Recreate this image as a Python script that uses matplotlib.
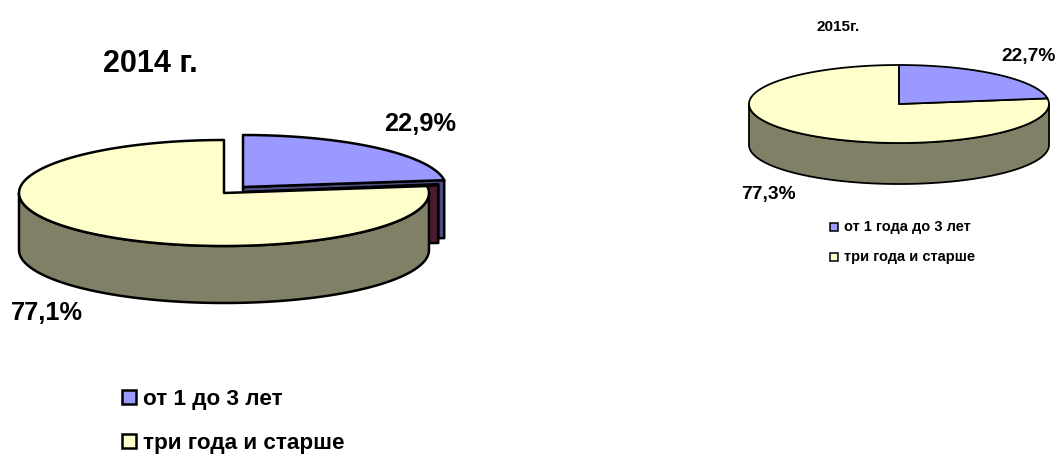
import numpy as np
import matplotlib
matplotlib.use("Agg")
import matplotlib.pyplot as plt
from matplotlib.patches import Polygon, Rectangle

plt.rcParams['font.family'] = ['Liberation Sans', 'DejaVu Sans']

# values in percent
shares_2014 = [22.9, 77.1]
shares_2015 = [22.7, 77.3]
legend_2014 = ['от 1 до 3 лет', 'три года и старше']
legend_2015 = ['от 1 года до 3 лет', 'три года и старше']

BLUE = '#9999FF'
YELLOW = '#FFFFCC'
YELLOW_SIDE = '#808066'
BLUE_SIDE = '#4D4D80'
MAROON = '#4D1A33'


def fmt(v):
    return f'{v:.1f}%'.replace('.', ',')


def arc(cx, cy, rx, ry, a0, a1, n=200):
    # angles go clockwise from the top, in degrees
    a = np.radians(np.linspace(a0, a1, n))
    return np.column_stack([cx + rx * np.sin(a), cy - ry * np.cos(a)])


def add_poly(ax, pts, color, lw, z):
    ax.add_patch(Polygon(pts, closed=True, facecolor=color, edgecolor='black',
                         linewidth=lw, joinstyle='round', zorder=z))


def draw_side(ax, cx, cy, rx, ry, depth, lw, z):
    top = arc(cx, cy, rx, ry, 90, 270)
    bottom = top[::-1] + [0, depth]
    add_poly(ax, np.vstack([top, bottom]), YELLOW_SIDE, lw, z)


def draw_legend(ax, x, ys, labels, size, fs, lw, gap, text_dy=0):
    for y, label, color in zip(ys, labels, [BLUE, YELLOW]):
        ax.add_patch(Rectangle((x, y - size / 2), size, size, facecolor=color,
                               edgecolor='black', linewidth=lw))
        ax.text(x + size + gap, y + text_dy, label, fontsize=fs, fontweight='bold',
                va='center', ha='left')


fig = plt.figure(figsize=(10.58, 4.54), dpi=100)
ax = fig.add_axes([0, 0, 1, 1])
ax.set_xlim(0, 1058)
ax.set_ylim(454, 0)
ax.axis('off')

# 2014, blue slice pulled out
angle = shares_2014[0] * 3.6
bx, by, brx, bry = 243, 187, 203, 52
cx, cy, rx, ry, depth = 224, 193, 205, 53, 57
blue_top = arc(bx, by, brx, bry, 0, angle)
tip = blue_top[-1]
add_poly(ax, [(bx, by), tip, (tip[0], tip[1] + 58), (tip[0] - 6, tip[1] + 58),
              (tip[0] - 6, tip[1] + 4), (bx, by + 5)], BLUE_SIDE, 1.8, 1)
add_poly(ax, [(cx + rx - 2, cy - 7), (tip[0] - 6, cy - 8), (tip[0] - 6, cy + 50),
              (cx + rx - 2, cy + 50)], MAROON, 1.8, 2)
draw_side(ax, cx, cy, rx, ry, depth, 1.8, 3)
add_poly(ax, np.vstack([[(cx, cy)], arc(cx, cy, rx, ry, angle, 360)]), YELLOW, 1.8, 4)
add_poly(ax, np.vstack([[(bx, by)], blue_top]), BLUE, 1.8, 5)

# 2015
angle = shares_2015[0] * 3.6
cx, cy, rx, ry, depth = 899, 104, 150, 39, 41
draw_side(ax, cx, cy, rx, ry, depth, 1.3, 3)
add_poly(ax, np.vstack([[(cx, cy)], arc(cx, cy, rx, ry, angle, 360)]), YELLOW, 1.3, 4)
add_poly(ax, np.vstack([[(cx, cy)], arc(cx, cy, rx, ry, 0, angle)]), BLUE, 1.3, 5)

ax.text(150, 64, '2014 г.', fontsize=22, fontweight='bold', ha='center', va='center')
ax.text(420.5, 124, fmt(shares_2014[0]), fontsize=18.3, fontweight='bold', ha='center', va='center')
ax.text(47, 313, fmt(shares_2014[1]), fontsize=18.3, fontweight='bold', ha='center', va='center')

ax.text(838, 27, '2015г.', fontsize=11, fontweight='bold', ha='center', va='center')
ax.text(1029, 57, fmt(shares_2015[0]), fontsize=13.8, fontweight='bold', ha='center', va='center')
ax.text(768.5, 194, fmt(shares_2015[1]), fontsize=13.8, fontweight='bold', ha='center', va='center')

draw_legend(ax, 122, [397, 441], legend_2014, 14, 16.2, 1.8, 7, text_dy=2)
draw_legend(ax, 830, [227, 257], legend_2015, 8, 10.5, 1.1, 6)

fig.savefig('out.png', dpi=100, facecolor='white')
